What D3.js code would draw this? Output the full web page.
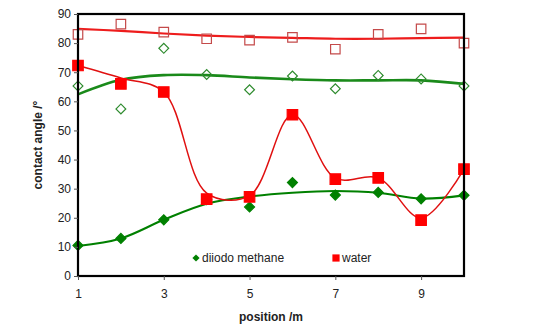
<!DOCTYPE html>
<html>
<head>
<meta charset="utf-8">
<script src="https://cdn.jsdelivr.net/npm/d3@7"></script>
<style>
  body { margin: 0; background: #fff; }
  text { font-family: "Liberation Sans", Arial, sans-serif; fill: #222; }
</style>
</head>
<body>
<div id="chart"></div>
<script>
// positions along the sample
var positions = [1, 2, 3, 4, 5, 6, 7, 8, 9, 10];

// contact angles, treated (filled) and untreated (open)
var waterFilled   = [72.3, 66.0, 63.2, 26.4, 27.2, 55.4, 33.3, 33.7, 19.2, 36.7];
var waterOpen     = [83.0, 86.5, 83.8, 81.5, 81.0, 82.0, 77.9, 83.0, 84.9, 80.0];
var diiodoFilled  = [10.5, 12.9, 19.3, 26.2, 23.7, 32.1, 27.8, 28.7, 26.5, 27.7];
var diiodoOpen    = [65.3, 57.4, 78.2, 69.2, 64.0, 68.7, 64.3, 68.9, 67.7, 65.3];

// smoothed trend lines
var waterFilledTrend  = [72.3, 68.0, 63.2, 28.5, 27.6, 55.4, 33.6, 33.7, 19.9, 36.7];
var waterOpenTrend    = [84.9, 84.2, 83.3, 82.6, 82.1, 81.8, 81.5, 81.5, 81.7, 81.9];
var diiodoFilledTrend = [10.3, 12.9, 19.3, 24.8, 27.3, 28.6, 29.2, 28.6, 26.6, 27.7];
var diiodoOpenTrend   = [62.4, 67.4, 69.0, 69.0, 68.2, 67.6, 67.2, 67.2, 67.2, 66.0];

var xTicks = [1, 3, 5, 7, 9];
var yTicks = [0, 10, 20, 30, 40, 50, 60, 70, 80, 90];

var width = 546, height = 331;
var svg = d3.select('#chart')
  .append('svg')
  .attr('width', width)
  .attr('height', height);

var x = d3.scaleLinear().domain([1, 10]).range([78, 464]);
var y = d3.scaleLinear().domain([0, 90]).range([276, 14]);

var red = '#ff0000', green = '#008000';

function trend(vals, color, w) {
  var line = d3.line()
    .x(function(d, i) { return x(positions[i]); })
    .y(function(d) { return y(d); })
    .curve(d3.curveCatmullRom.alpha(0.5));
  svg.append('path')
    .attr('d', line(vals))
    .attr('fill', 'none')
    .attr('stroke', color)
    .attr('stroke-width', w);
}

function markers(vals, diamond, size, fill, stroke) {
  var sym = d3.symbol().type(d3.symbolSquare).size(size);
  svg.append('g').selectAll('path')
    .data(vals)
    .enter()
    .append('path')
    .attr('d', sym)
    .attr('transform', function(d, i) {
      return 'translate(' + x(positions[i]) + ',' + y(d) + ')' + (diamond ? ' rotate(45)' : '');
    })
    .attr('fill', fill)
    .attr('stroke', stroke)
    .attr('stroke-width', 1.2);
}

// trend lines
trend(waterOpenTrend, '#ee1c1c', 2.2);
trend(diiodoOpenTrend, '#1a8a1a', 2.6);
trend(diiodoFilledTrend, green, 2.2);
trend(waterFilledTrend, '#e01010', 1.5);

// open markers
markers(waterOpen, false, 90, 'none', '#c44a4a');
markers(diiodoOpen, true, 48, 'none', '#2e8b2e');
// filled markers
markers(diiodoFilled, true, 50, green, green);
markers(waterFilled, false, 110, red, red);

// frame
svg.append('rect')
  .attr('x', x(1)).attr('y', y(90))
  .attr('width', x(10) - x(1)).attr('height', y(0) - y(90))
  .attr('fill', 'none')
  .attr('stroke', '#000')
  .attr('stroke-width', 2.2);

// axes
var yAxis = svg.append('g')
  .attr('transform', 'translate(' + x(1) + ',0)')
  .call(d3.axisLeft(y).tickValues(yTicks).tickSize(4).tickPadding(3));
var xAxis = svg.append('g')
  .attr('transform', 'translate(0,' + y(0) + ')')
  .call(d3.axisBottom(x).tickValues(xTicks).tickSize(4).tickPadding(9));
[xAxis, yAxis].forEach(function(a) {
  a.select('.domain').remove();
  a.selectAll('line').attr('stroke', '#555');
  a.selectAll('text')
    .style('font-family', '"Liberation Sans", Arial, sans-serif')
    .style('font-size', '12px')
    .attr('fill', '#222');
});

// axis titles
svg.append('text')
  .attr('x', 271).attr('y', 321)
  .attr('text-anchor', 'middle')
  .style('font-size', '12px').style('font-weight', 'bold')
  .text('position /m');
svg.append('text')
  .attr('transform', 'translate(42,145) rotate(-90)')
  .attr('text-anchor', 'middle')
  .style('font-size', '12px').style('font-weight', 'bold')
  .text('contact angle /°');

// legend
var legend = svg.append('g');
legend.append('path')
  .attr('d', d3.symbol().type(d3.symbolSquare).size(26))
  .attr('transform', 'translate(196,258) rotate(45)')
  .attr('fill', green);
legend.append('text')
  .attr('x', 202).attr('y', 262)
  .style('font-size', '12px')
  .text('diiodo methane');
legend.append('path')
  .attr('d', d3.symbol().type(d3.symbolSquare).size(52))
  .attr('transform', 'translate(336,258)')
  .attr('fill', red);
legend.append('text')
  .attr('x', 342).attr('y', 262)
  .style('font-size', '12px')
  .text('water');
</script>
</body>
</html>
